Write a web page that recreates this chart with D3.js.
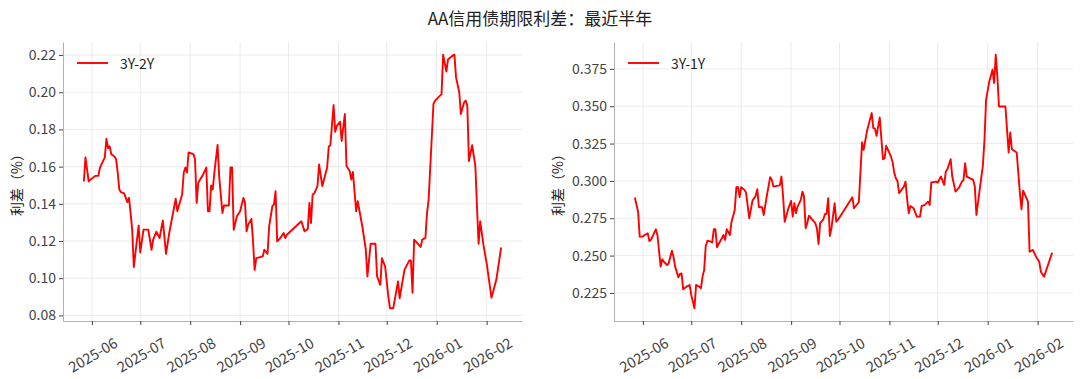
<!DOCTYPE html>
<html>
<head>
<meta charset="utf-8">
<script src="https://cdn.jsdelivr.net/npm/d3@7"></script>
<style>
  body { margin: 0; background: #fff; }
  svg text { font-family: "Noto Sans CJK SC", "Noto Sans", sans-serif; }
</style>
</head>
<body>
<div id="chart"></div>
<script>
// 3Y-2Y
const dates32 = [
  '2025-05-27','2025-05-28','2025-05-30','2025-05-31','2025-06-03','2025-06-05','2025-06-06','2025-06-09','2025-06-10','2025-06-11',
  '2025-06-12','2025-06-13','2025-06-15','2025-06-16','2025-06-17','2025-06-18','2025-06-19','2025-06-21','2025-06-23','2025-06-24',
  '2025-06-25','2025-06-26','2025-06-27','2025-06-30','2025-07-01','2025-07-03','2025-07-06','2025-07-08','2025-07-09','2025-07-11',
  '2025-07-13','2025-07-15','2025-07-17','2025-07-19','2025-07-23','2025-07-24','2025-07-27','2025-07-28','2025-07-29','2025-07-30',
  '2025-07-31','2025-08-03','2025-08-04','2025-08-05','2025-08-06','2025-08-09','2025-08-11','2025-08-12','2025-08-13','2025-08-14',
  '2025-08-15','2025-08-16','2025-08-18','2025-08-19','2025-08-21','2025-08-22','2025-08-25','2025-08-26','2025-08-27','2025-08-28',
  '2025-08-30','2025-09-01','2025-09-03','2025-09-04','2025-09-05','2025-09-06','2025-09-08','2025-09-09','2025-09-10','2025-09-11',
  '2025-09-15','2025-09-16','2025-09-18','2025-09-19','2025-09-21','2025-09-22','2025-09-23','2025-09-24','2025-09-26','2025-09-28',
  '2025-09-29','2025-09-30','2025-10-09','2025-10-11','2025-10-13','2025-10-14','2025-10-15','2025-10-16','2025-10-17','2025-10-19',
  '2025-10-20','2025-10-22','2025-10-25','2025-10-26','2025-10-27','2025-10-29','2025-10-30','2025-10-31','2025-11-02','2025-11-03',
  '2025-11-05','2025-11-06','2025-11-08','2025-11-09','2025-11-10','2025-11-12','2025-11-13','2025-11-16','2025-11-18','2025-11-19',
  '2025-11-21','2025-11-24','2025-11-25','2025-11-27','2025-11-28','2025-11-30','2025-12-02','2025-12-03','2025-12-05','2025-12-08',
  '2025-12-09','2025-12-12','2025-12-15','2025-12-16','2025-12-17','2025-12-18','2025-12-19','2025-12-22','2025-12-23','2025-12-25',
  '2025-12-26','2025-12-27','2025-12-28','2025-12-30','2025-12-31','2026-01-04','2026-01-05','2026-01-07','2026-01-08','2026-01-11',
  '2026-01-12','2026-01-13','2026-01-15','2026-01-16','2026-01-18','2026-01-19','2026-01-20','2026-01-21','2026-01-23','2026-01-25',
  '2026-01-26','2026-01-27','2026-01-28','2026-01-30','2026-02-01','2026-02-04','2026-02-07','2026-02-10'
];
const spread32 = [
  0.152,0.165,0.152,0.153,0.155,0.155,0.1595,0.165,0.175,0.170,
  0.171,0.1667,0.1654,0.164,0.1568,0.1477,0.1463,0.1456,0.1409,0.1432,
  0.1351,0.126,0.106,0.1283,0.1138,0.1261,0.1261,0.1153,0.1207,0.125,
  0.1216,0.1311,0.1131,0.1243,0.1427,0.136,0.145,0.1568,0.1595,0.1568,
  0.1676,0.1667,0.164,0.1405,0.1513,0.1558,0.1595,0.136,0.136,0.1499,
  0.1477,0.1568,0.1717,0.1546,0.1351,0.1391,0.1391,0.1595,0.1595,0.126,
  0.1333,0.136,0.1432,0.1405,0.1252,0.1288,0.1319,0.1198,0.1045,0.1108,
  0.1117,0.1153,0.1131,0.1279,0.1387,0.1396,0.1468,0.1198,0.1216,0.1243,
  0.1216,0.1234,0.1306,0.1252,0.1265,0.1405,0.1297,0.145,0.1456,0.1495,
  0.1612,0.1495,0.1595,0.1708,0.1715,0.1931,0.1787,0.1819,0.1841,0.1738,
  0.1883,0.1603,0.1576,0.1531,0.1571,0.136,0.1414,0.127,0.1153,0.1009,
  0.1185,0.1185,0.1009,0.0964,0.1108,0.1063,0.09,0.0838,0.0838,0.0982,
  0.0892,0.1045,0.1095,0.1095,0.0922,0.1207,0.1198,0.1168,0.1207,0.1216,
  0.1351,0.1423,0.1595,0.1937,0.1955,0.199,0.2202,0.2111,0.2176,0.2198,
  0.2202,0.2081,0.20,0.1883,0.1946,0.1955,0.1928,0.163,0.1715,0.1603,
  0.1387,0.1185,0.1306,0.118,0.1081,0.0895,0.0991,0.1165
];

// 3Y-1Y
const dates31 = [
  '2025-05-27','2025-05-29','2025-05-30','2025-06-01','2025-06-02','2025-06-04','2025-06-05','2025-06-06','2025-06-09','2025-06-10',
  '2025-06-12','2025-06-13','2025-06-14','2025-06-16','2025-06-17','2025-06-19','2025-06-20','2025-06-21','2025-06-23','2025-06-24',
  '2025-06-25','2025-06-26','2025-06-28','2025-06-30','2025-07-01','2025-07-03','2025-07-04','2025-07-06','2025-07-07','2025-07-08',
  '2025-07-09','2025-07-10','2025-07-11','2025-07-13','2025-07-14','2025-07-15','2025-07-16','2025-07-17','2025-07-18','2025-07-20',
  '2025-07-21','2025-07-22','2025-07-23','2025-07-25','2025-07-26','2025-07-28','2025-07-29','2025-07-30','2025-07-31','2025-08-01',
  '2025-08-03','2025-08-04','2025-08-06','2025-08-08','2025-08-10','2025-08-11','2025-08-12','2025-08-14','2025-08-15','2025-08-17',
  '2025-08-19','2025-08-20','2025-08-21','2025-08-23','2025-08-25','2025-08-26','2025-08-27','2025-08-28','2025-08-30','2025-09-01',
  '2025-09-02','2025-09-03','2025-09-04','2025-09-05','2025-09-07','2025-09-08','2025-09-09','2025-09-10','2025-09-11','2025-09-12',
  '2025-09-14','2025-09-16','2025-09-17','2025-09-18','2025-09-19','2025-09-21','2025-09-22','2025-09-23','2025-09-24','2025-09-25',
  '2025-09-26','2025-09-28','2025-09-29','2025-09-30','2025-10-09','2025-10-10','2025-10-13','2025-10-14','2025-10-15','2025-10-16',
  '2025-10-18','2025-10-21','2025-10-22','2025-10-23','2025-10-24','2025-10-26','2025-10-28','2025-10-29','2025-10-30','2025-11-02',
  '2025-11-03','2025-11-04','2025-11-05','2025-11-06','2025-11-07','2025-11-10','2025-11-11','2025-11-12','2025-11-13','2025-11-14',
  '2025-11-16','2025-11-18','2025-11-20','2025-11-21','2025-11-23','2025-11-25','2025-11-26','2025-11-27','2025-11-30','2025-12-01',
  '2025-12-03','2025-12-05','2025-12-06','2025-12-07','2025-12-09','2025-12-10','2025-12-12','2025-12-14','2025-12-16','2025-12-17',
  '2025-12-18','2025-12-19','2025-12-23','2025-12-24','2025-12-25','2025-12-27','2025-12-29','2025-12-30','2025-12-31','2026-01-02',
  '2026-01-04','2026-01-05','2026-01-06','2026-01-07','2026-01-08','2026-01-12','2026-01-14','2026-01-15','2026-01-16','2026-01-19',
  '2026-01-21','2026-01-22','2026-01-23','2026-01-26','2026-01-27','2026-01-29','2026-01-31','2026-02-02','2026-02-03','2026-02-05',
  '2026-02-06','2026-02-10'
];
const spread31 = [
  0.2888,0.2794,0.2627,0.2627,0.2638,0.2649,0.2598,0.2605,0.2676,0.2638,
  0.2426,0.2475,0.2459,0.2437,0.2448,0.2533,0.2491,0.2426,0.2355,0.2377,
  0.2381,0.2274,0.2292,0.2303,0.2236,0.2147,0.2303,0.2292,0.2281,0.2359,
  0.2404,0.2564,0.26,0.2593,0.2589,0.2676,0.2676,0.2556,0.2578,0.2616,
  0.2638,0.2605,0.2676,0.2638,0.2727,0.2806,0.2958,0.2959,0.2891,0.2958,
  0.294,0.2922,0.275,0.2868,0.29,0.2944,0.2824,0.2824,0.2772,0.2906,
  0.3025,0.3007,0.2962,0.2967,0.297,0.3029,0.2895,0.2727,0.2806,0.2866,
  0.2761,0.285,0.2784,0.2828,0.2873,0.2928,0.2895,0.2683,0.2717,0.2767,
  0.2743,0.2717,0.2683,0.2578,0.2717,0.2743,0.2779,0.2779,0.2884,0.2631,
  0.2683,0.285,0.2727,0.2739,0.2891,0.2817,0.2857,0.3052,0.3257,0.3208,
  0.333,0.3454,0.3353,0.3351,0.3302,0.3424,0.3145,0.315,0.3235,0.3163,
  0.3123,0.3056,0.3018,0.300,0.2918,0.2962,0.2995,0.2877,0.2784,0.2832,
  0.2817,0.2761,0.2761,0.2832,0.2839,0.2861,0.2839,0.2989,0.2995,0.2989,
  0.3029,0.2973,0.3062,0.3078,0.3145,0.3029,0.2928,0.2951,0.2995,0.3007,
  0.3119,0.3029,0.3007,0.2962,0.2772,0.294,0.3101,0.3275,0.3543,0.3666,
  0.3744,0.3655,0.3845,0.3699,0.3498,0.3498,0.319,0.3324,0.3212,0.319,
  0.2918,0.281,0.2935,0.2861,0.2526,0.2538,0.2493,0.2459,0.2392,0.2359,
  0.2392,0.2519
];

const yTicks32 = [0.08, 0.10, 0.12, 0.14, 0.16, 0.18, 0.20, 0.22];
const yTicks31 = [0.225, 0.250, 0.275, 0.300, 0.325, 0.350, 0.375];

const title = 'AA信用债期限利差：最近半年';
const yLabel = '利差（%）';

const width = 1080, height = 379;
const parse = d3.timeParse('%Y-%m-%d');

const svg = d3.select('#chart').append('svg')
  .attr('width', width)
  .attr('height', height);

svg.append('text')
  .attr('x', 540).attr('y', 17)
  .attr('text-anchor', 'middle')
  .attr('dominant-baseline', 'central')
  .style('font-size', '17px')
  .attr('fill', '#222')
  .text(title);

function drawPanel(left, right, dates, values, yTicks, fmt, name, labelOffset) {
  const top = 42, bottom = 321;
  const data = dates.map((d, i) => ({ date: parse(d), v: values[i] }));

  // matplotlib style 5% margins
  const [t0, t1] = d3.extent(data, d => d.date);
  const padT = (t1 - t0) * 0.05;
  const [v0, v1] = d3.extent(data, d => d.v);
  const padV = (v1 - v0) * 0.05;

  const x = d3.scaleTime()
    .domain([new Date(+t0 - padT), new Date(+t1 + padT)])
    .range([left, right]);
  const y = d3.scaleLinear()
    .domain([v0 - padV, v1 + padV])
    .range([bottom, top]);

  const xTicks = x.ticks(d3.timeMonth.every(1));
  const g = svg.append('g');

  // grid
  g.selectAll('.gx').data(xTicks).enter().append('line')
    .attr('x1', d => x(d)).attr('x2', d => x(d))
    .attr('y1', top).attr('y2', bottom)
    .attr('stroke', '#e6e6e6').attr('stroke-width', 0.8);
  g.selectAll('.gy').data(yTicks).enter().append('line')
    .attr('x1', left).attr('x2', right)
    .attr('y1', d => y(d)).attr('y2', d => y(d))
    .attr('stroke', '#e6e6e6').attr('stroke-width', 0.8);

  // x axis
  const xAxis = g.append('g')
    .attr('transform', `translate(0,${bottom})`)
    .call(d3.axisBottom(x).tickValues(xTicks).tickFormat(d3.timeFormat('%Y-%m')).tickSize(4).tickSizeOuter(0));
  xAxis.select('.domain').attr('stroke', '#b0b0b0');
  xAxis.selectAll('.tick line').attr('stroke', '#444');
  xAxis.selectAll('.tick text')
    .attr('y', 0).attr('dy', null)
    .attr('transform', 'translate(0,33) rotate(-30)')
    .attr('text-anchor', 'middle')
    .attr('dominant-baseline', 'central')
    .style('font-size', '14.5px')
    .attr('fill', '#444');

  // y axis
  const yAxis = g.append('g')
    .attr('transform', `translate(${left},0)`)
    .call(d3.axisLeft(y).tickValues(yTicks).tickFormat(d3.format(fmt)).tickSize(4).tickSizeOuter(0));
  yAxis.select('.domain').attr('stroke', '#b0b0b0');
  yAxis.selectAll('.tick line').attr('stroke', '#444');
  yAxis.selectAll('.tick text')
    .attr('x', -7)
    .style('font-size', '14px')
    .attr('fill', '#444');

  svg.append('text')
    .attr('transform', `translate(${left - labelOffset},${(top + bottom) / 2}) rotate(-90)`)
    .attr('text-anchor', 'middle')
    .attr('dominant-baseline', 'central')
    .style('font-size', '14px')
    .attr('fill', '#222')
    .text(yLabel);

  const line = d3.line().x(d => x(d.date)).y(d => y(d.v));
  g.append('path')
    .datum(data)
    .attr('d', line)
    .attr('fill', 'none')
    .attr('stroke', '#ff0000')
    .attr('stroke-width', 1.9)
    .attr('stroke-linejoin', 'round');

  // legend
  g.append('line')
    .attr('x1', left + 14).attr('x2', left + 45)
    .attr('y1', 63).attr('y2', 63)
    .attr('stroke', '#ff0000').attr('stroke-width', 1.9);
  g.append('text')
    .attr('x', left + 57).attr('y', 63)
    .attr('dominant-baseline', 'central')
    .style('font-size', '14px')
    .attr('fill', '#222')
    .text(name);
}

drawPanel(63, 522, dates32, spread32, yTicks32, '.2f', '3Y-2Y', 47);
drawPanel(614, 1073, dates31, spread31, yTicks31, '.3f', '3Y-1Y', 57);
</script>
</body>
</html>
